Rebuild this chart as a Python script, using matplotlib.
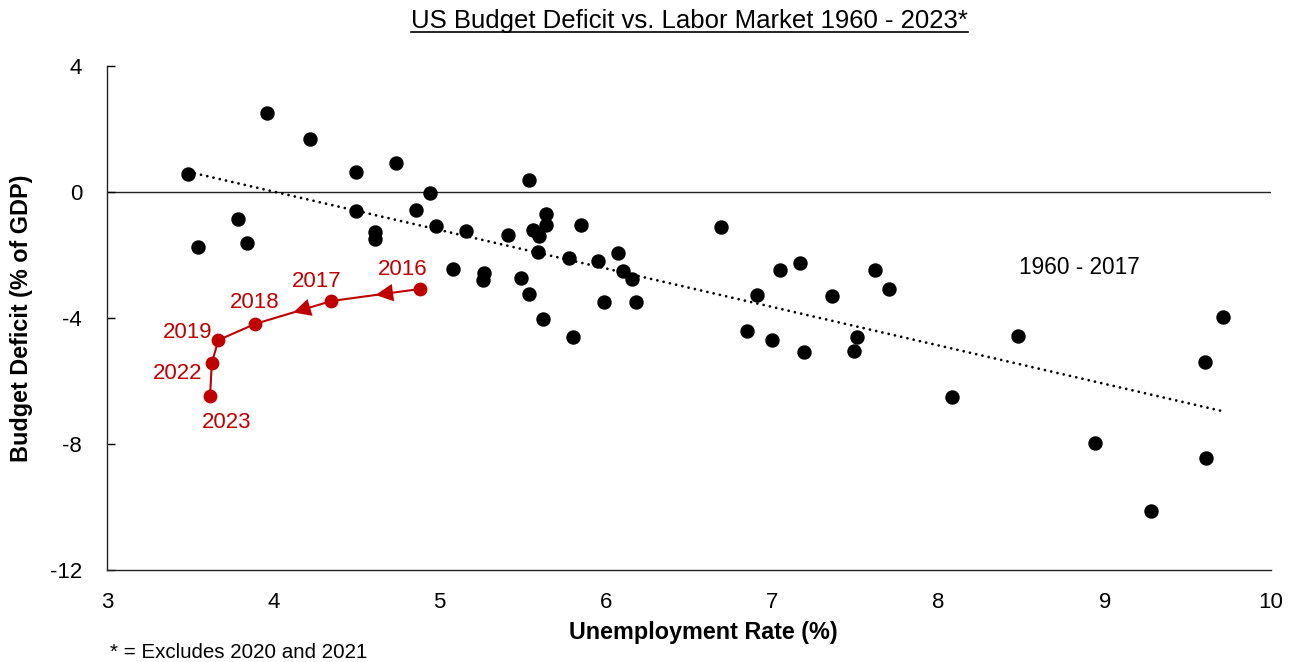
import numpy as np
import matplotlib
matplotlib.use("Agg")
import matplotlib.pyplot as plt

# 1960 - 2015 scatter (unemployment %, budget balance % of GDP)
unemp_hist = [3.49, 3.55, 3.79, 3.84, 3.96, 4.22, 4.50, 4.50, 4.61, 4.61,
              4.74, 4.86, 4.94, 4.98, 5.08, 5.16, 5.27, 5.26, 5.41, 5.49,
              5.54, 5.54, 5.64, 5.64, 5.56, 5.60, 5.85, 5.59, 5.78, 5.95,
              6.07, 6.10, 6.16, 5.99, 6.18, 6.69, 5.62, 5.80, 6.85, 7.05,
              7.17, 6.91, 7.36, 7.62, 7.70, 7.00, 7.19, 7.51, 7.49, 8.48,
              8.08, 9.71, 9.60, 8.94, 9.61, 9.28]
deficit_hist = [0.57, -1.75, -0.86, -1.62, 2.51, 1.68, 0.64, -0.60, -1.27, -1.49,
                0.92, -0.57, -0.03, -1.08, -2.44, -1.24, -2.57, -2.79, -1.37, -2.73,
                0.38, -3.24, -0.70, -1.05, -1.21, -1.40, -1.05, -1.91, -2.10, -2.19,
                -1.94, -2.51, -2.76, -3.49, -3.49, -1.11, -4.03, -4.60, -4.42, -2.48,
                -2.25, -3.27, -3.30, -2.48, -3.08, -4.70, -5.08, -4.60, -5.05, -4.57,
                -6.51, -3.97, -5.40, -7.97, -8.44, -10.13]

# recent years (2020 and 2021 excluded)
years_recent = ["2016", "2017", "2018", "2019", "2022", "2023"]
unemp_recent = [4.88, 4.35, 3.89, 3.67, 3.63, 3.62]
deficit_recent = [-3.08, -3.46, -4.19, -4.70, -5.43, -6.48]

red = "#C00000"
plt.rcParams["font.family"] = ["Liberation Sans", "DejaVu Sans"]

fig = plt.figure(figsize=(12.97, 6.62), dpi=100)
ax = fig.add_axes([0.0825, 0.139, 0.8975, 0.7613])

# zero line
ax.axhline(0, color="#222222", lw=1.0, zorder=1)

# trend line over the historical data
coef = np.polyfit(unemp_hist, deficit_hist, 1)
xt = np.array([min(unemp_hist), max(unemp_hist)])
ax.plot(xt, np.polyval(coef, xt), color="black", lw=2.0,
        dashes=(0.01, 2.3), dash_capstyle="round", zorder=2)

ax.scatter(unemp_hist, deficit_hist, s=88, color="black", zorder=3)

# recent path
ax.plot(unemp_recent, deficit_recent, color=red, lw=1.5, zorder=4)
ax.scatter(unemp_recent, deficit_recent, s=80, color=red, zorder=5)

# direction arrows on first two segments
for i in range(2):
    x0, y0 = unemp_recent[i], deficit_recent[i]
    x1, y1 = unemp_recent[i + 1], deficit_recent[i + 1]
    mx, my = (x0 + x1) / 2, (y0 + y1) / 2
    ax.annotate("", xy=(mx, my), xytext=(mx + (x0 - x1) * 0.02, my + (y0 - y1) * 0.02),
                arrowprops=dict(arrowstyle="-|>,head_length=0.9,head_width=0.45",
                                color=red, lw=0, shrinkA=0, shrinkB=0,
                                mutation_scale=14), zorder=5)

label_off = [(-17, 20), (-15, 19), (0, 21), (-31, 8), (-34, -10), (17, -26)]
for yr, xv, yv, off in zip(years_recent, unemp_recent, deficit_recent, label_off):
    ax.annotate(yr, (xv, yv), xytext=off, textcoords="offset pixels",
                ha="center", va="center", color=red, fontsize=16)

ax.text(8.85, -2.41, "1960 - 2017", ha="center", va="center", fontsize=16.3)

ax.set_xlim(3, 10)
ax.set_ylim(-12, 4)
ax.set_xticks(range(3, 11))
ax.set_yticks([-12, -8, -4, 0, 4])
ax.set_yticklabels(["-12", "-8", "-4", "0", "4"])
ax.tick_params(axis="y", direction="in", length=6, width=1, pad=18, labelsize=16)
ax.tick_params(axis="x", length=0, pad=16, labelsize=16)
for s in ["top", "right"]:
    ax.spines[s].set_visible(False)
for s in ["left", "bottom"]:
    ax.spines[s].set_linewidth(1.0)
    ax.spines[s].set_color("#222222")

fig.text(703 / 1297, 1 - 632 / 662, "Unemployment Rate (%)", ha="center", va="center",
         fontsize=16.8, fontweight="bold")
fig.text(22 / 1297, 1 - 318 / 662, "Budget Deficit (% of GDP)", ha="center", va="center",
         rotation=90, fontsize=16.8, fontweight="bold")

title = fig.text(689.5 / 1297, 1 - 21 / 662, "US Budget Deficit vs. Labor Market 1960 - 2023*",
                 ha="center", va="center", fontsize=18.5)
fig.canvas.draw()
bb = title.get_window_extent()
fig.add_artist(plt.Line2D([bb.x0 / fig.bbox.width, bb.x1 / fig.bbox.width],
                          [(bb.y0 + 1) / fig.bbox.height] * 2,
                          color="black", lw=1.2))

fig.text(110 / 1297, 1 - 652 / 662, "* = Excludes 2020 and 2021", ha="left", va="center",
         fontsize=14.8)

fig.savefig("out.png", dpi=100)
